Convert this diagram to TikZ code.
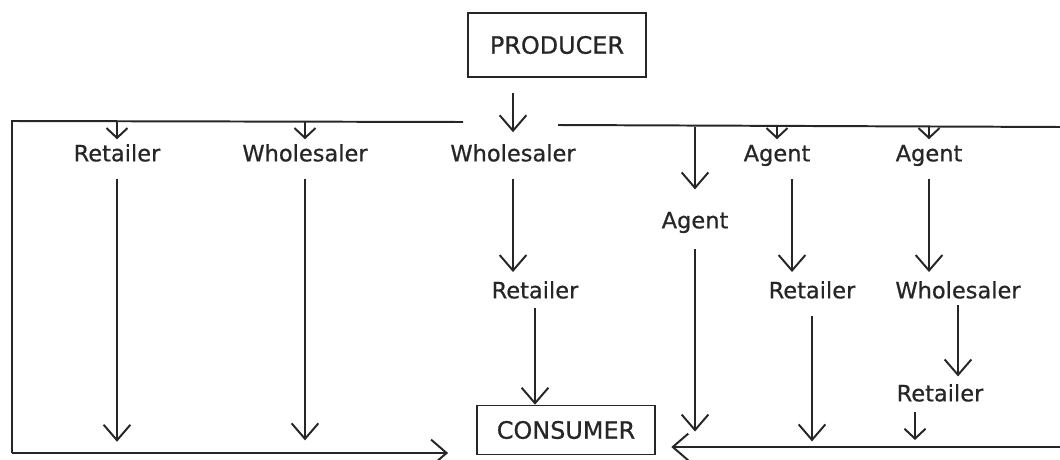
\documentclass[tikz,border=0pt]{standalone}
\usepackage{fontspec}
\setmainfont{DejaVu Sans}
\newfontfamily\lblfont{DejaVu Sans}[FakeBold=0.7]
\usetikzlibrary{arrows.meta}

\begin{document}
\begin{tikzpicture}[x=.025cm, y=-.025cm, line width=1.4pt, color=black!85,
    >={Straight Barb[length=11pt,width=19pt]},
    lbl/.style={font=\lblfont\fontsize{16}{19}\selectfont, inner sep=1pt, text height=12pt, text depth=3pt},
    box/.style={draw, line width=1.1pt, font=\lblfont\fontsize{17}{20}\selectfont, minimum width=4.45cm},
    droparrow/.style={-{Straight Barb[length=7pt,width=15pt]}},
    link/.style={->, shorten <=8pt, shorten >=5pt}]
\useasboundingbox (0,0) rectangle (1060,460);

% the two ends of the chain
\node[box, minimum height=1.6cm] (prod) at (557,45) {PRODUCER};
\node[box, minimum height=1.225cm] (cons) at (566,430) {CONSUMER};

% first row
\node[lbl] (r1) at (117,155) {Retailer};
\node[lbl] (w1) at (305,155) {Wholesaler};
\node[lbl] (w2) at (513,155) {Wholesaler};
\node[lbl] (a2) at (777,155) {Agent};
\node[lbl] (a3) at (929,155) {Agent};
\node[lbl] (a1) at (695,222) {Agent};

% lower rows
\node[lbl] (r2) at (535,292) {Retailer};
\node[lbl] (r3) at (812,292) {Retailer};
\node[lbl] (w3) at (958,292) {Wholesaler};
\node[lbl] (r4) at (940,395) {Retailer};

% bus lines
\coordinate (busL) at (12,121);
\coordinate (busM) at (463,122);
\coordinate (busR0) at (558,125);
\coordinate (busR) at (1060,127);
\coordinate (botL) at (12,453);
\coordinate (botR) at (1060,447);
\coordinate (a2x) at ([xshift=.375cm]a2.south);
\coordinate (r4x) at ([xshift=-.625cm]r4.south);

\draw (busM) -- (busL) -- (botL);
\draw (busR0) -- (busR);
\draw[->, shorten >=20pt] (botL) -- (botL -| cons.west);
\draw[->, shorten >=11pt] (botR) -- (botR -| cons.east);

% producer down to the bus
\draw[->, shorten <=11pt, shorten >=7pt] (prod.south -| w2) -- (w2.north);

% drops from the bus
\draw[droparrow, shorten >=2pt] (r1 |- busL) -- (r1.north);
\draw[droparrow, shorten >=2pt] (w1 |- busL) -- (w1.north);
\draw[droparrow, shorten >=2pt] (a2 |- busR) -- (a2.north);
\draw[droparrow, shorten >=2pt] (a3 |- busR) -- (a3.north);
\draw[->, shorten >=14pt] (a1 |- busR) -- (a1.north);

% channels to the consumer
\draw[link, shorten >=8pt] (r1.south) -- (r1 |- botL);
\draw[link, shorten >=9pt] (w1.south) -- (w1 |- botL);
\draw[link] (w2.south) -- (w2 |- r2.north);
\draw[->, shorten <=2pt] (r2.south) -- (r2 |- cons.north);
\draw[link, shorten <=10pt, shorten >=11pt] (a1.south) -- (a1 |- botR);
\draw[link] (a2x) -- (a2x |- r3.north);
\draw[link, shorten >=4pt] (r3.south) -- (r3 |- botR);
\draw[link] (a3.south) -- (a3 |- w3.north);
\draw[link, shorten <=0pt, shorten >=4pt] (w3.south) -- (w3 |- r4.north);
\draw[droparrow, shorten <=3pt, shorten >=5pt] (r4x) -- (r4x |- botR);
\end{tikzpicture}
\end{document}
